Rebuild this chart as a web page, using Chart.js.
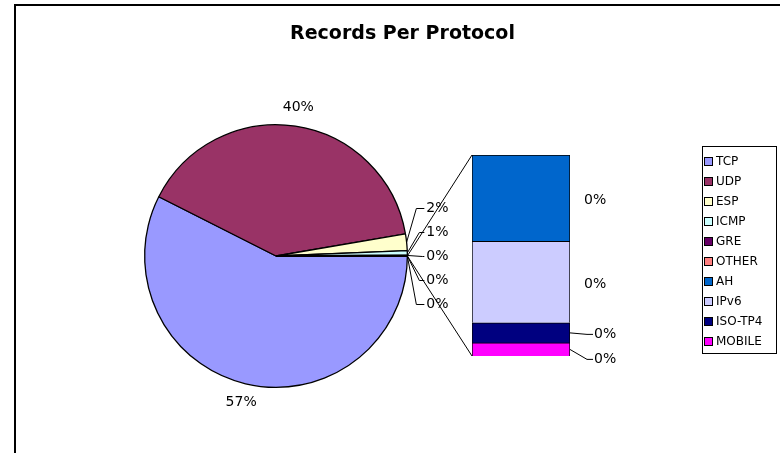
<!DOCTYPE html>
<html>
<head>
<meta charset="utf-8">
<script src="https://cdn.jsdelivr.net/npm/chart.js@4.4.1/dist/chart.umd.min.js"></script>
<style>
  body { margin: 0; background: #fff; }
  #wrap { position: relative; width: 780px; height: 453px; overflow: hidden; font-family: "DejaVu Sans", Verdana, sans-serif; }
  #frame { position: absolute; left: 14px; top: 4px; width: 800px; height: 500px; border-left: 2px solid #000; border-top: 2px solid #000; }
  canvas { position: absolute; left: 0; top: 0; }
  #title { position: absolute; left: 15px; width: 775px; top: 21px; line-height: 22px; text-align: center; font-weight: bold; font-size: 19px; color: #000; }
  #legend { position: absolute; left: 702px; top: 146px; width: 75px; height: 208px; border: 1px solid #000; box-sizing: border-box; padding-top: 4px; font-size: 12px; color: #000; }
  #legend div { height: 20px; line-height: 20px; white-space: nowrap; }
  #legend i { display: inline-block; width: 7px; height: 7px; border: 1px solid #000; margin: 0 3px 0 1px; vertical-align: -1px; }
</style>
</head>
<body>
<div id="wrap">
  <div id="frame"></div>
  <canvas id="pie" width="780" height="453"></canvas>
  <canvas id="bar" width="780" height="453"></canvas>
  <div id="title">Records Per Protocol</div>
  <div id="legend"></div>
</div>
<script>
// share of records, percent
const pieLabels = ["TCP", "UDP", "ESP", "ICMP", "GRE", "OTHER"];
const pieValues = [57.45, 39.85, 2.05, 0.55, 0.07, 0.02];
const pieColors = ["#9999FF", "#993366", "#FFFFCC", "#CCFFFF", "#660066", "#FF8080"];

// split out into the bar
const barLabels = ["AH", "IPv6", "ISO-TP4", "MOBILE"];
const barValues = [0.0043, 0.00405, 0.001, 0.00065];
const barColors = ["#0066CC", "#CCCCFF", "#000080", "#FF00FF"];

const FONT = '14px "DejaVu Sans", Verdana, sans-serif';
const barTotal = barValues.reduce((a, b) => a + b, 0);
const allValues = pieValues.concat([barTotal]);
const grandTotal = allValues.reduce((a, b) => a + b, 0);
const pct = (v) => Math.round((v / grandTotal) * 100) + "%";

// legend
document.getElementById("legend").innerHTML = pieLabels
  .map((l, i) => [l, pieColors[i]])
  .concat(barLabels.map((l, i) => [l, barColors[i]]))
  .map(([l, c]) => `<div><i style="background:${c}"></i>${l}</div>`)
  .join("");

const pieLabelPlugin = {
  id: "pieLabels",
  afterDatasetsDraw(chart) {
    const ctx = chart.ctx;
    const arcs = chart.getDatasetMeta(0).data;
    ctx.save();
    ctx.font = FONT;
    ctx.fillStyle = "#000";
    ctx.strokeStyle = "#000";
    ctx.lineWidth = 1;
    const small = [];
    arcs.forEach((a, i) => {
      const v = allValues[i];
      const mid = (a.startAngle + a.endAngle) / 2;
      if (v / grandTotal >= 0.05) {
        const d = a.outerRadius + 19;
        ctx.textAlign = "center";
        ctx.textBaseline = "middle";
        ctx.fillText(pct(v), a.x + Math.cos(mid) * d, a.y + Math.sin(mid) * d);
      } else {
        small.push({ a, v, mid });
      }
    });
    // spread small labels in a column right of the pie
    const n = small.length;
    small.forEach((s, k) => {
      const off = k - (n - 1) / 2;
      const ly = s.a.y + off * 24;
      const tx = s.a.x + s.a.outerRadius + 19;
      const px = s.a.x + Math.cos(s.mid) * s.a.outerRadius;
      const py = s.a.y + Math.sin(s.mid) * s.a.outerRadius;
      const ex = tx - 4 - 3 * Math.abs(off);
      ctx.beginPath();
      ctx.moveTo(px, py);
      ctx.lineTo(ex, ly + 0.5);
      ctx.lineTo(tx - 2, ly + 0.5);
      ctx.stroke();
      ctx.textAlign = "left";
      ctx.textBaseline = "middle";
      ctx.fillText(pct(s.v), tx, ly);
    });
    ctx.restore();
  },
};

const pieChart = new Chart(document.getElementById("pie"), {
  type: "pie",
  data: {
    labels: pieLabels.concat(["Other"]),
    datasets: [
      {
        data: allValues,
        backgroundColor: pieColors.concat(["#FFFFFF"]),
        borderColor: "#000",
        borderWidth: 1.3,
      },
    ],
  },
  options: {
    responsive: false,
    animation: false,
    rotation: 90,
    layout: { padding: { left: 144, right: 372, top: 124, bottom: 65 } },
    plugins: { legend: { display: false }, tooltip: { enabled: false } },
  },
  plugins: [pieLabelPlugin],
});

const barLabelPlugin = {
  id: "barLabels",
  afterDatasetsDraw(chart) {
    const ctx = chart.ctx;
    ctx.save();
    ctx.font = FONT;
    ctx.fillStyle = "#000";
    ctx.strokeStyle = "#000";
    ctx.lineWidth = 1;
    // segments top to bottom
    const segs = chart.data.datasets
      .map((ds, i) => {
        const el = chart.getDatasetMeta(i).data[0];
        return {
          v: ds.data[0],
          top: Math.min(el.y, el.base),
          bot: Math.max(el.y, el.base),
          right: el.x + el.width / 2,
          left: el.x - el.width / 2,
        };
      })
      .sort((a, b) => a.top - b.top);
    let prev = -Infinity;
    segs.forEach((s) => {
      const mid = (s.top + s.bot) / 2;
      if (s.bot - s.top > 30) {
        ctx.textAlign = "left";
        ctx.textBaseline = "middle";
        ctx.fillText(pct(s.v), s.right + 14, mid + 2);
        prev = mid + 2;
      } else {
        const ly = Math.max(mid + 1, prev + 25);
        ctx.beginPath();
        ctx.moveTo(s.right, mid);
        ctx.lineTo(s.right + 17, ly + 0.5);
        ctx.lineTo(s.right + 23, ly + 0.5);
        ctx.stroke();
        ctx.textAlign = "left";
        ctx.textBaseline = "middle";
        ctx.fillText(pct(s.v), s.right + 24, ly);
        prev = ly;
      }
    });
    // connector lines from the split slice to the bar
    const arcs = pieChart.getDatasetMeta(0).data;
    const a = arcs[arcs.length - 1];
    const top = segs[0].top;
    const bot = segs[segs.length - 1].bot;
    const left = segs[0].left;
    ctx.beginPath();
    ctx.moveTo(a.x + Math.cos(a.startAngle) * a.outerRadius, a.y + Math.sin(a.startAngle) * a.outerRadius);
    ctx.lineTo(left, top);
    ctx.moveTo(a.x + Math.cos(a.endAngle) * a.outerRadius, a.y + Math.sin(a.endAngle) * a.outerRadius);
    ctx.lineTo(left, bot);
    ctx.stroke();
    ctx.restore();
  },
};

const stackOrder = barLabels.map((_, i) => i).reverse();
new Chart(document.getElementById("bar"), {
  type: "bar",
  data: {
    labels: ["Other"],
    datasets: stackOrder.map((i) => ({
      label: barLabels[i],
      data: [barValues[i]],
      backgroundColor: barColors[i],
      borderColor: "#000",
      borderWidth: 1,
      barPercentage: 1,
      categoryPercentage: 1,
    })),
  },
  options: {
    responsive: false,
    animation: false,
    layout: { padding: { left: 472, right: 210, top: 155, bottom: 97 } },
    plugins: { legend: { display: false }, tooltip: { enabled: false } },
    scales: {
      x: { stacked: true, display: false },
      y: { stacked: true, display: false, min: 0, max: barTotal },
    },
  },
  plugins: [barLabelPlugin],
});
</script>
</body>
</html>
